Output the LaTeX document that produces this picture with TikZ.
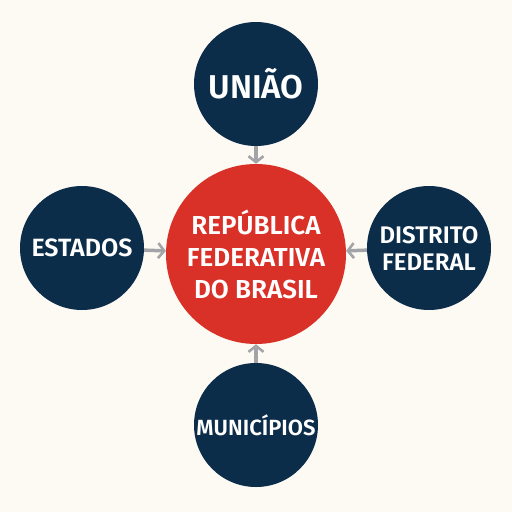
\documentclass[tikz,border=0pt]{standalone}
\usepackage{fontspec}
\setmainfont{Fira Sans}[BoldFont={* SemiBold}]
\usetikzlibrary{arrows.meta}
\definecolor{navy}{HTML}{0B2D4A}
\definecolor{flagred}{HTML}{D93027}
\definecolor{paper}{HTML}{FDFAF4}
\definecolor{arrowgray}{HTML}{A2A4A7}
\begin{document}
\begin{tikzpicture}
		[x=1pt, y=-1pt,
		entity/.style={circle, fill=navy, text=white, minimum size=124pt, inner sep=0pt, align=center, font=\bfseries},
		core/.style={circle, fill=flagred, text=white, minimum size=180pt, inner sep=0pt, align=center, font=\bfseries\fontsize{26}{32}\selectfont},
		link/.style={draw=arrowgray, line width=3.5pt, -{Straight Barb[length=6pt,width=15pt,line width=2.6pt]}}]
		% Background
		\fill[paper] (0,0) rectangle (512,512);
		\useasboundingbox (0,0) rectangle (512,512);

		% Center
		\node[core] (republica) at (256,254) {REPÚBLICA\\FEDERATIVA\\DO BRASIL};

		% Entities
		\node[entity, font=\bfseries\fontsize{33}{38}\selectfont] (uniao) at (256,84) {UNIÃO};
		\node[entity, font=\bfseries\fontsize{25}{30}\selectfont] (estados) at (82,248) {ESTADOS};
		\node[entity, font=\bfseries\fontsize{24}{27}\selectfont] (distrito) at (429,248) {DISTRITO\\FEDERAL};
		\node[entity, font=\bfseries\fontsize{22}{26}\selectfont] (municipios) at (256,425) {MUNICÍPIOS};

		% Links
		\draw[link] (uniao) -- (republica);
		\draw[link] (estados) -- (republica);
		\draw[link] (distrito) -- (republica);
		\draw[link] (municipios) -- (republica);
\end{tikzpicture}
\end{document}
